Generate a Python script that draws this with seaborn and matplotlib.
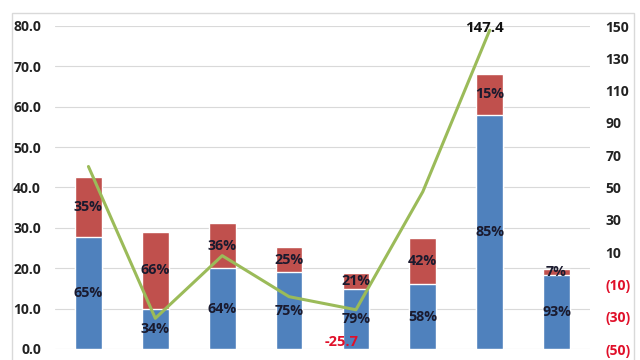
import numpy as np
import pandas as pd
import matplotlib
matplotlib.use("Agg")
import matplotlib.pyplot as plt
import seaborn as sns
from matplotlib.patches import Rectangle
from matplotlib.ticker import FuncFormatter

# Data
positions = list(range(8))
blue_vals = [27.7, 9.9, 20.0, 19.0, 14.9, 16.0, 58.0, 18.3]
red_vals = [14.9, 19.1, 11.2, 6.3, 4.0, 11.6, 10.2, 1.4]
blue_pct = ["65%", "34%", "64%", "75%", "79%", "58%", "85%", "93%"]
red_pct = ["35%", "66%", "36%", "25%", "21%", "42%", "15%", "7%"]
line_vals = [63.0, -31.0, 7.8, -17.6, -25.7, 47.4, 147.4, np.nan]

left_ticks = [0, 10, 20, 30, 40, 50, 60, 70, 80]
right_ticks = [-50, -30, -10, 10, 30, 50, 70, 90, 110, 130, 150]

BLUE = "#4F81BD"
RED = "#C0504D"
GREEN = "#9BBB59"
TXT = "#1A1A2E"
NEG = "#E0102A"

sns.set_theme(style="white")
plt.rcParams["font.family"] = ["Open Sans", "DejaVu Sans"]
plt.rcParams["font.weight"] = "bold"

df = pd.DataFrame({"pos": positions, "blue": blue_vals, "red": red_vals})
df["total"] = df["blue"] + df["red"]

fig = plt.figure(figsize=(6.4, 3.6), dpi=100)
ax = fig.add_axes([55 / 640, 11 / 360, 535 / 640, 323 / 360])

sns.barplot(data=df, x="pos", y="total", color=RED, saturation=1, width=0.4, ax=ax)
sns.barplot(data=df, x="pos", y="blue", color=BLUE, saturation=1, width=0.4, ax=ax)

for i, row in df.iterrows():
    ax.text(i, row["blue"] / 2, blue_pct[i], ha="center", va="center",
            fontsize=10.3, fontweight="bold", color=TXT)
    ax.text(i, row["blue"] + row["red"] / 2, red_pct[i], ha="center", va="center",
            fontsize=10.3, fontweight="bold", color=TXT)

ax.set_ylim(0, 80)
ax.set_xlim(-0.5, 7.5)
ax.set_yticks(left_ticks)
ax.yaxis.set_major_formatter(FuncFormatter(lambda v, p: f"{v:.1f}"))
ax.set_xticks([])
ax.set_xlabel("")
ax.set_ylabel("")
ax.grid(axis="y", color="#D9D9D9", linewidth=0.8)
ax.set_axisbelow(True)
ax.tick_params(axis="y", length=0, pad=10, labelsize=10)
for lbl in ax.get_yticklabels():
    lbl.set_fontweight("bold")
    lbl.set_color("#222222")
for s in ax.spines.values():
    s.set_visible(False)

ax2 = ax.twinx()
sns.lineplot(x=positions, y=line_vals, color=GREEN, linewidth=2.2, ax=ax2)
ax2.set_ylim(-50, 150)
ax2.set_yticks(right_ticks)
ax2.yaxis.set_major_formatter(FuncFormatter(
    lambda v, p: f"({abs(int(v))})" if v < 0 else f"{int(v)}"))
ax2.tick_params(axis="y", length=0, pad=11, labelsize=10)
for lbl, v in zip(ax2.get_yticklabels(), right_ticks):
    lbl.set_fontweight("bold")
    lbl.set_color(NEG if v < 0 else "#222222")
for s in ax2.spines.values():
    s.set_visible(False)

ax2.text(6 - 0.08, 148.5, "147.4", ha="center", va="center",
         fontsize=10.8, fontweight="bold", color="#111111")
ax2.text(4 - 0.21, -45.5, "-25.7", ha="center", va="center",
         fontsize=10.5, fontweight="bold", color=NEG)

fig.patches.append(Rectangle((12 / 640, -0.1), 622 / 640, 1.1 - 13 / 360,
                             transform=fig.transFigure, fill=False,
                             edgecolor="#D9D9D9", linewidth=1))

fig.savefig("out.png", dpi=100)
